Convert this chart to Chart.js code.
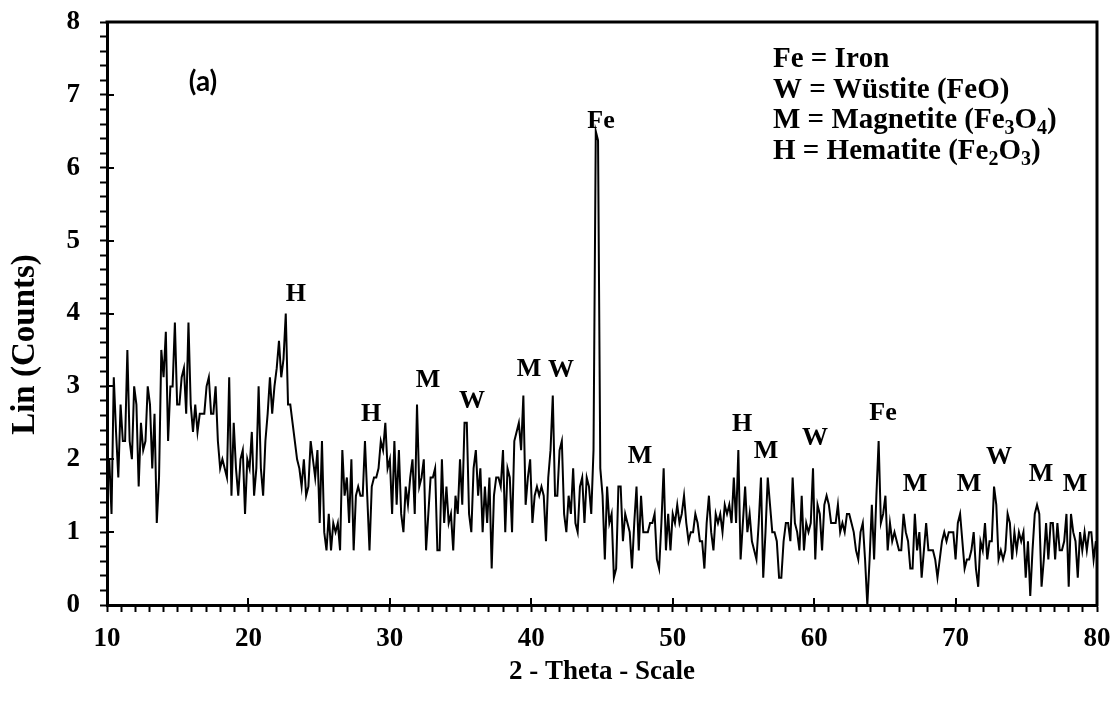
<!DOCTYPE html>
<html>
<head>
<meta charset="utf-8">
<style>
html,body{margin:0;padding:0;background:#fff;}
#wrap{width:1118px;height:709px;position:relative;}
</style>
<script src="https://cdn.jsdelivr.net/npm/chart.js@4.4.1/dist/chart.umd.min.js"></script>
</head>
<body>
<div id="wrap"><canvas id="c" width="1118" height="709"></canvas></div>
<script>
// ---- data ----
const thetaStart = 10;      // first 2-theta sample
const thetaStep = 0.16;     // sampling step in degrees

// counts, 10.00 - 26.96 deg
const countsA = [
 1.75, 2.0, 1.25, 3.125, 2.375, 1.75, 2.75, 2.25, 2.25, 3.5,
 2.25, 2.0, 3.0, 2.75, 1.625, 2.5, 2.125, 2.25, 3.0, 2.75,
 1.875, 2.625, 1.125, 1.75, 3.5, 3.125, 3.75, 2.25, 3.0, 3.0,
 3.875, 2.75, 2.75, 3.125, 3.25, 2.625, 3.875, 2.75, 2.375, 2.75,
 2.375, 2.625, 2.625, 2.625, 3.0, 3.125, 2.625, 2.625, 3.0, 2.25,
 1.875, 2.0, 1.875, 1.75, 3.125, 1.5, 2.5, 1.875, 1.5, 2.0,
 2.125, 1.25, 2.0, 1.875, 2.375, 1.5, 1.875, 3.0, 1.875, 1.5,
 2.25, 2.625, 3.125, 2.625, 3.0, 3.25, 3.625, 3.125, 3.375, 4.0,
 2.75, 2.75, 2.5, 2.25, 2.0, 1.875, 1.625, 2.0, 1.5, 1.625,
 2.25, 2.0, 1.75, 2.125, 1.125, 2.25, 1.0, 0.75, 1.25, 0.75,
 1.125, 1.0, 1.125, 0.75, 2.125, 1.5, 1.75
];
// counts, 27.12 - 44.40 deg
const countsB = [
 1.125, 2.0, 0.75, 1.5, 1.625, 1.5, 1.5, 2.25, 1.5, 0.75,
 1.625, 1.75, 1.75, 1.875, 2.25, 2.125, 2.5, 1.875, 2.0, 1.25,
 2.25, 1.375, 2.125, 1.25, 1.0, 1.625, 1.375, 1.75, 2.0, 1.25,
 2.75, 1.625, 1.75, 2.0, 0.75, 1.25, 1.75, 1.75, 1.875, 0.75,
 0.75, 2.0, 1.125, 1.625, 1.125, 1.25, 0.75, 1.5, 1.25, 2.0,
 1.375, 2.5, 2.5, 1.25, 1.0, 1.875, 2.125, 1.5, 1.875, 1.0,
 1.625, 1.125, 1.75, 0.5, 1.5, 1.75, 1.75, 1.625, 2.125, 1.0,
 1.875, 1.75, 1.0, 2.25, 2.375, 2.5, 2.125, 2.875, 1.375, 1.75,
 2.0, 1.125, 1.5, 1.625, 1.5, 1.625, 1.5, 0.875, 1.75, 2.125,
 2.875, 1.5, 1.5, 2.125, 2.25, 1.25, 1.0, 1.5, 1.25, 1.875,
 1.125, 1.0, 1.625, 1.75, 1.125, 1.75, 1.625, 1.25, 2.125
];
// counts, 44.56 - 62.96 deg
const countsC = [
 6.5, 6.375, 1.875, 1.5, 0.625, 1.625, 1.125, 1.25, 0.375, 0.5,
 1.625, 1.625, 0.875, 1.25, 1.125, 1.0, 0.5, 1.125, 1.625, 0.75,
 1.5, 1.0, 1.0, 1.0, 1.125, 1.125, 1.25, 0.625, 0.5, 1.125,
 1.875, 0.75, 1.25, 0.75, 1.25, 1.125, 1.375, 1.125, 1.25, 1.5,
 1.125, 0.875, 1.0, 1.0, 1.25, 1.125, 0.875, 0.875, 0.5, 1.125,
 1.5, 1.0, 0.75, 1.25, 1.125, 1.25, 1.0, 1.375, 1.25, 1.375,
 1.125, 1.75, 1.125, 2.125, 0.625, 1.125, 1.625, 1.0, 1.25, 0.875,
 0.75, 0.625, 1.125, 1.75, 0.375, 1.0, 1.75, 1.375, 1.0, 1.0,
 0.875, 0.375, 0.375, 0.875, 1.125, 1.125, 0.875, 1.75, 1.125, 1.0,
 0.75, 1.5, 0.75, 1.125, 1.0, 1.125, 1.875, 0.625, 1.375, 1.25,
 0.75, 1.375, 1.5, 1.375, 1.125, 1.125, 1.125, 1.375, 1.0, 1.125,
 1.0, 1.25, 1.25, 1.125, 1.0, 0.75
];
// counts, 63.12 - 79.92 deg
const countsD = [
 0.625, 1.0, 1.125, 0.625, 0.0, 0.625, 1.375, 0.625, 1.5, 2.25,
 1.125, 1.25, 1.5, 0.75, 1.125, 0.875, 1.0, 0.875, 0.75, 0.75,
 1.25, 1.0, 0.875, 0.5, 0.5, 1.25, 0.75, 1.0, 0.375, 0.75,
 1.125, 0.75, 0.75, 0.75, 0.625, 0.375, 0.625, 0.875, 1.0, 0.875,
 1.0, 1.0, 1.0, 0.625, 1.125, 1.25, 0.875, 0.5, 0.625, 0.625,
 0.75, 1.0, 0.5, 0.25, 0.875, 0.75, 1.125, 0.625, 0.875, 0.875,
 1.625, 1.375, 0.625, 0.75, 0.625, 0.75, 1.25, 1.125, 0.625, 1.0,
 0.75, 1.0, 0.875, 1.0, 0.375, 0.875, 0.125, 0.75, 1.25, 1.375,
 1.25, 0.25, 0.625, 1.125, 0.625, 1.125, 1.125, 0.625, 1.125, 0.75,
 0.75, 0.875, 1.25, 0.25, 1.25, 1.0, 0.875, 0.375, 1.0, 0.75,
 1.0, 0.75, 1.0, 1.0, 0.625, 0.875
];

const xTickLabels = [10, 20, 30, 40, 50, 60, 70, 80];
const yTickLabels = [0, 1, 2, 3, 4, 5, 6, 7, 8];

// phase labels over peaks
const peakLabels = ['H','H','M','W','M','W','Fe','M','H','M','W','Fe','M','M','W','M','M'];
const peakTheta  = [23.36, 28.67, 32.70, 35.81, 39.84, 42.10, 44.93, 47.69, 54.90, 56.60, 60.06, 64.87, 67.13, 70.95, 73.07, 76.04, 78.44];
const peakHeight = [4.27, 2.62, 3.09, 2.80, 3.24, 3.22, 6.64, 2.04, 2.48, 2.11, 2.29, 2.63, 1.65, 1.65, 2.03, 1.80, 1.65];

// key text ("_" marks the next character as a subscript)
const keyLines = ['Fe = Iron', 'W = Wüstite (FeO)', 'M = Magnetite (Fe_3O_4)', 'H = Hematite (Fe_2O_3)'];
const panelTag = '(a)';
const yTitle = 'Lin (Counts)';

// ---- build ----
const counts = countsA.concat(countsB, countsC, countsD);
const points = counts.map((v, i) => ({ x: +(thetaStart + i * thetaStep).toFixed(2), y: v }));

const SERIF = '"Liberation Serif", "Times New Roman", serif';

const annotate = {
  id: 'annotate',
  afterDraw(chart) {
    const { ctx, chartArea: a, scales: { x, y } } = chart;
    ctx.save();
    ctx.strokeStyle = '#000';
    // top and right frame
    ctx.lineWidth = 3;
    ctx.beginPath();
    ctx.moveTo(a.left - 1.5, a.top);
    ctx.lineTo(a.right, a.top);
    ctx.lineTo(a.right, a.bottom + 1.5);
    ctx.stroke();
    // inner half of the major ticks
    ctx.lineWidth = 2;
    ctx.beginPath();
    xTickLabels.forEach(v => {
      const px = Math.round(x.getPixelForValue(v));
      ctx.moveTo(px, a.bottom); ctx.lineTo(px, a.bottom - 7);
    });
    yTickLabels.forEach(v => {
      const py = Math.round(y.getPixelForValue(v));
      ctx.moveTo(a.left, py); ctx.lineTo(a.left + 7, py);
    });
    ctx.stroke();

    // peak labels
    ctx.fillStyle = '#000';
    ctx.font = 'bold 26px ' + SERIF;
    ctx.textAlign = 'center';
    ctx.textBaseline = 'middle';
    peakLabels.forEach((t, i) => {
      ctx.fillText(t, x.getPixelForValue(peakTheta[i]), y.getPixelForValue(peakHeight[i]));
    });

    // key
    ctx.textAlign = 'left';
    ctx.textBaseline = 'alphabetic';
    const kx = a.right - 324, ky = a.top + 45, lh = 30.5;
    keyLines.forEach((line, li) => {
      let cx = kx;
      const by = ky + li * lh;
      for (let k = 0; k < line.length; k++) {
        let ch = line[k], sub = false;
        if (ch === '_') { sub = true; k++; ch = line[k]; }
        ctx.font = sub ? 'bold 20px ' + SERIF : 'bold 29px ' + SERIF;
        ctx.fillText(ch, cx, sub ? by + 6 : by);
        cx += ctx.measureText(ch).width;
      }
    });

    // panel tag
    ctx.font = 'bold 28px Lato, "Open Sans", sans-serif';
    ctx.textAlign = 'center';
    ctx.textBaseline = 'middle';
    ctx.fillText(panelTag, a.left + 96, a.top + 60);

    // y-axis title (sits a little below the axis centre, as in the reference)
    ctx.save();
    ctx.translate(25, (a.top + a.bottom) / 2 + 31);
    ctx.rotate(-Math.PI / 2);
    ctx.font = 'bold 33px ' + SERIF;
    ctx.textAlign = 'center';
    ctx.textBaseline = 'middle';
    ctx.fillText(yTitle, 0, 0);
    ctx.restore();
    ctx.restore();
  }
};

new Chart(document.getElementById('c'), {
  type: 'line',
  data: {
    datasets: [{
      data: points,
      borderColor: '#000',
      borderWidth: 2,
      pointRadius: 0,
      tension: 0,
      fill: false
    }]
  },
  options: {
    responsive: false,
    animation: false,
    devicePixelRatio: 1,
    layout: { padding: { left: 0, top: 22, right: 21, bottom: 0 } },
    plugins: { legend: { display: false }, tooltip: { enabled: false } },
    scales: {
      x: {
        type: 'linear', min: 10, max: 80,
        ticks: {
          stepSize: 1, autoSkip: false, maxRotation: 0, padding: 11, color: '#000',
          font: { family: SERIF, weight: 'bold', size: 27 },
          callback: v => xTickLabels.includes(v) ? String(v) : ''
        },
        grid: { display: true, drawOnChartArea: false, drawTicks: true, tickLength: 7, tickWidth: 2, tickColor: '#000' },
        border: { display: true, width: 3, color: '#000' },
        title: { display: true, text: '2 - Theta - Scale', color: '#000',
                 font: { family: SERIF, weight: 'bold', size: 27 }, padding: { top: 0, bottom: 21 } },
        afterFit: s => { s.height = 104; s.paddingLeft = 0; s.paddingRight = 0; }
      },
      y: {
        type: 'linear', min: 0, max: 8,
        ticks: {
          stepSize: 0.2, autoSkip: false, padding: 20, color: '#000',
          font: { family: SERIF, weight: 'bold', size: 27 },
          callback: v => {
            const r = Math.round(v);
            return (Math.abs(v - r) < 1e-6 && yTickLabels.includes(r)) ? String(r) : '';
          }
        },
        grid: { display: true, drawOnChartArea: false, drawTicks: true, tickLength: 7, tickWidth: 2, tickColor: '#000' },
        border: { display: true, width: 3, color: '#000' },
        title: { display: false },
        afterFit: s => { s.width = 107; s.paddingTop = 0; s.paddingBottom = 0; }
      }
    }
  },
  plugins: [annotate]
});
</script>
</body>
</html>
